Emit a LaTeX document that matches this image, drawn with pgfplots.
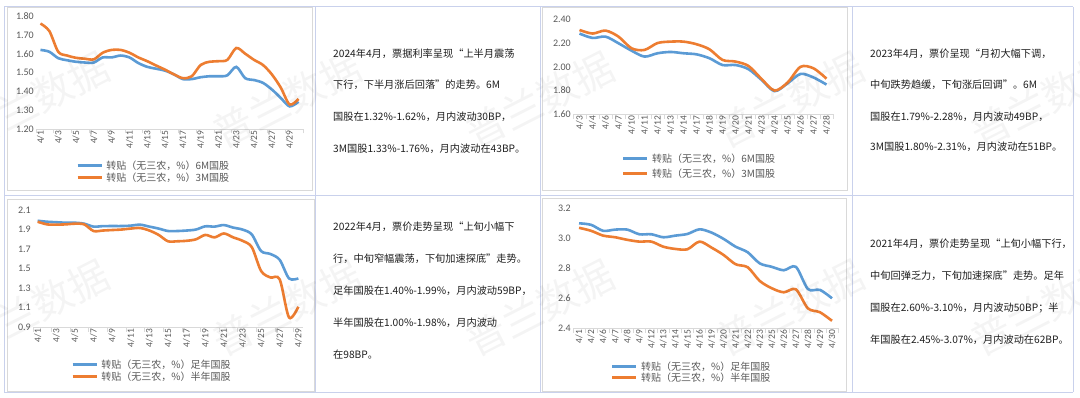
\documentclass[border=0pt]{standalone}
\usepackage{fontspec}
\usepackage{pgfplots}
\pgfplotsset{compat=1.18}
\setmainfont{Noto Sans CJK SC}
\newfontfamily\carlito{Carlito}
\definecolor{blueline}{HTML}{5B9BD5}
\definecolor{orangeline}{HTML}{ED7D31}
\definecolor{tickgray}{HTML}{595959}
\definecolor{axisgray}{HTML}{D9D9D9}
\definecolor{tablec}{HTML}{C9D1EC}
\definecolor{txt}{HTML}{1E1E1E}
\pgfplotsset{
 mychart/.style={
   scale only axis,
   anchor=south west,
   enlargelimits=false,
   axis lines*=left,
   y axis line style={draw=none},
   x axis line style={draw=axisgray, line width=0.8bp},
   tick align=outside,
   major tick length=0pt,
   minor tick length=4.5bp,
   minor tick style={draw=axisgray, line width=0.8bp},
   xticklabel style={rotate=90, anchor=east, font=\carlito\fontsize{9.5bp}{9.5bp}\selectfont, text=tickgray, inner sep=1.5bp},
   yticklabel style={font=\carlito\fontsize{10bp}{10bp}\selectfont, text=tickgray, inner sep=2bp},
   /pgf/number format/assume math mode=true,
   clip=false,
   legend cell align=left,
   legend style={draw=none, fill=none, font=\fontsize{10bp}{12bp}\selectfont, text=tickgray, anchor=north west, inner sep=0pt, column sep=3bp, nodes={inner sep=0.5bp}},
   legend image code/.code={\draw[##1] (0bp,0bp) -- (24bp,0bp);},
   every axis plot/.append style={line width=2.6bp, smooth, tension=0.5, no markers},
 }
}
\begin{document}
\begin{tikzpicture}[x=1bp,y=1bp]
\path[use as bounding box, fill=white] (0,0) rectangle (1080,397);
% table grid
\begin{scope}[draw=tablec, line width=1bp]
\draw (4,390) -- (1073,390);
\draw (4,202) -- (1073,202);
\draw (4,5) -- (1073,5);
\foreach \xx in {4,315,540,852,1073} {\draw (\xx,5) -- (\xx,390);}
\end{scope}
% chart borders
\begin{scope}[draw=axisgray, line width=0.8bp]
\draw (7,390) rectangle (312.5,206.5);
\draw (542,390) rectangle (847,207);
\draw (7,198) rectangle (314,6);
\draw (542,199) rectangle (846,6);
\end{scope}

% ---------- Chart 1 (2024) ----------
\begin{axis}[mychart, at={(36bp,268bp)}, width=267bp, height=113bp,
  xmin=-0.5, xmax=29.5, ymin=1.2, ymax=1.8,
  ytick={1.2,1.3,1.4,1.5,1.6,1.7,1.8},
  yticklabel style={/pgf/number format/.cd, fixed, fixed zerofill, precision=2},
  xtick={0,2,4,6,8,10,12,14,16,18,20,22,24,26,28},
  xticklabels={4/1,4/3,4/5,4/7,4/9,4/11,4/13,4/15,4/17,4/19,4/21,4/23,4/25,4/27,4/29},
  minor xtick={-0.5,1.5,3.5,5.5,7.5,9.5,11.5,13.5,15.5,17.5,19.5,21.5,23.5,25.5,27.5,29.5},
  legend style={at={(0.150,-0.274)}, row sep=1bp}]
\addplot[blueline] coordinates {(0,1.62)(1,1.61)(2,1.576)(3,1.565)(4,1.557)(5,1.553)(6,1.553)(7,1.58)(8,1.58)(9,1.59)(10,1.58)(11,1.55)(12,1.53)(13,1.52)(14,1.51)(15,1.49)(16,1.465)(17,1.465)(18,1.475)(19,1.48)(20,1.48)(21,1.485)(22,1.53)(23,1.47)(24,1.46)(25,1.445)(26,1.41)(27,1.365)(28,1.32)(29,1.345)};
\addlegendentry{转贴（无三农，\%）6M国股}
\addplot[orangeline] coordinates {(0,1.76)(1,1.72)(2,1.61)(3,1.59)(4,1.578)(5,1.573)(6,1.57)(7,1.605)(8,1.62)(9,1.62)(10,1.605)(11,1.58)(12,1.56)(13,1.537)(14,1.515)(15,1.49)(16,1.47)(17,1.48)(18,1.54)(19,1.557)(20,1.56)(21,1.567)(22,1.63)(23,1.60)(24,1.567)(25,1.54)(26,1.49)(27,1.42)(28,1.33)(29,1.36)};
\addlegendentry{转贴（无三农，\%）3M国股}
\end{axis}

% ---------- Chart 2 (2023) ----------
\begin{axis}[mychart, at={(573bp,282.7bp)}, width=260bp, height=95bp,
  xmin=-0.5, xmax=19.5, ymin=1.6, ymax=2.4,
  ytick={1.6,1.8,2.0,2.2,2.4},
  yticklabel style={/pgf/number format/.cd, fixed, fixed zerofill, precision=2},
  xtick={0,...,19},
  xticklabels={4/3,4/4,4/6,4/7,4/10,4/11,4/12,4/13,4/14,4/17,4/18,4/19,4/20,4/21,4/23,4/24,4/25,4/26,4/27,4/28},
  minor xtick={-0.5,0.5,...,19.5},
  legend style={at={(0.188,-0.407)}, row sep=4bp}]
\addplot[blueline] coordinates {(0,2.28)(1,2.243)(2,2.254)(3,2.198)(4,2.136)(5,2.086)(6,2.114)(7,2.125)(8,2.114)(9,2.105)(10,2.072)(11,2.015)(12,2.015)(13,1.98)(14,1.89)(15,1.795)(16,1.86)(17,1.94)(18,1.91)(19,1.85)};
\addlegendentry{转贴（无三农，\%）6M国股}
\addplot[orangeline] coordinates {(0,2.31)(1,2.28)(2,2.305)(3,2.254)(4,2.156)(5,2.142)(6,2.20)(7,2.212)(8,2.212)(9,2.19)(10,2.147)(11,2.058)(12,2.044)(13,2.007)(14,1.898)(15,1.80)(16,1.867)(17,2.00)(18,1.987)(19,1.90)};
\addlegendentry{转贴（无三农，\%）3M国股}
\end{axis}

% ---------- Chart 3 (2022) ----------
\begin{axis}[mychart, at={(33bp,69.7bp)}, width=270bp, height=117.3bp,
  xmin=-0.5, xmax=28.5, ymin=0.9, ymax=2.1,
  ytick={0.9,1.1,1.3,1.5,1.7,1.9,2.1},
  yticklabel style={/pgf/number format/.cd, fixed, fixed zerofill, precision=1},
  xtick={0,2,4,6,8,10,12,14,16,18,20,22,24,26,28},
  xticklabels={4/1,4/3,4/5,4/7,4/9,4/11,4/13,4/15,4/17,4/19,4/21,4/23,4/25,4/27,4/29},
  minor xtick={-0.5,1.5,3.5,5.5,7.5,9.5,11.5,13.5,15.5,17.5,19.5,21.5,23.5,25.5,27.5},
  legend style={at={(0.141,-0.270)}, row sep=1bp}]
\addplot[blueline] coordinates {(0,1.99)(1,1.98)(2,1.975)(3,1.97)(4,1.97)(5,1.96)(6,1.93)(7,1.935)(8,1.936)(9,1.936)(10,1.94)(11,1.95)(12,1.93)(13,1.91)(14,1.885)(15,1.885)(16,1.89)(17,1.90)(18,1.933)(19,1.93)(20,1.946)(21,1.92)(22,1.90)(23,1.85)(24,1.68)(25,1.65)(26,1.59)(27,1.40)(28,1.40)};
\addlegendentry{转贴（无三农，\%）足年国股}
\addplot[orangeline] coordinates {(0,1.98)(1,1.953)(2,1.95)(3,1.953)(4,1.96)(5,1.953)(6,1.885)(7,1.89)(8,1.895)(9,1.90)(10,1.91)(11,1.916)(12,1.89)(13,1.845)(14,1.78)(15,1.78)(16,1.785)(17,1.80)(18,1.845)(19,1.82)(20,1.86)(21,1.82)(22,1.785)(23,1.72)(24,1.476)(25,1.41)(26,1.39)(27,1.00)(28,1.11)};
\addlegendentry{转贴（无三农，\%）半年国股}
\end{axis}

% ---------- Chart 4 (2021) ----------
\begin{axis}[mychart, at={(573bp,68.7bp)}, width=265bp, height=120bp,
  xmin=-0.5, xmax=21.5, ymin=2.4, ymax=3.2,
  ytick={2.4,2.6,2.8,3.0,3.2},
  yticklabel style={/pgf/number format/.cd, fixed, fixed zerofill, precision=1},
  xtick={0,...,21},
  xticklabels={4/1,4/2,4/6,4/7,4/8,4/9,4/12,4/13,4/14,4/15,4/16,4/19,4/20,4/21,4/22,4/23,4/25,4/26,4/27,4/28,4/29,4/30},
  minor xtick={-0.5,0.5,...,21.5},
  legend style={at={(0.143,-0.2725)}, row sep=0bp}]
\addplot[blueline] coordinates {(0,3.10)(1,3.09)(2,3.05)(3,3.058)(4,3.058)(5,3.027)(6,3.027)(7,3.007)(8,3.018)(9,3.029)(10,3.06)(11,3.038)(12,2.996)(13,2.944)(14,2.907)(15,2.833)(16,2.81)(17,2.787)(18,2.81)(19,2.662)(20,2.656)(21,2.60)};
\addlegendentry{转贴（无三农，\%）足年国股}
\addplot[orangeline] coordinates {(0,3.07)(1,3.05)(2,3.018)(3,3.007)(4,2.99)(5,2.978)(6,2.978)(7,2.944)(8,2.929)(9,2.927)(10,2.978)(11,2.938)(12,2.889)(13,2.827)(14,2.807)(15,2.716)(16,2.667)(17,2.64)(18,2.66)(19,2.533)(20,2.507)(21,2.45)};
\addlegendentry{转贴（无三农，\%）半年国股}
\end{axis}

% ---------- Text boxes ----------
\begin{scope}[every node/.style={anchor=west, inner sep=0pt, text=txt, font=\fontsize{10.2bp}{12bp}\selectfont}]
\node at (333,343.7) {2024年4月，票据利率呈现“上半月震荡};
\node at (333,312) {下行，下半月涨后回落”的走势。6M};
\node at (333,280.3) {国股在1.32\%-1.62\%，月内波动30BP，};
\node at (333,248.7) {3M国股1.33\%-1.76\%，月内波动在43BP。};

\node at (870,343.7) {2023年4月，票价呈现“月初大幅下调，};
\node at (870,312) {中旬跌势趋缓，下旬涨后回调”。6M};
\node at (870,280.3) {国股在1.79\%-2.28\%，月内波动49BP，};
\node at (870,250.3) {3M国股1.80\%-2.31\%，月内波动在51BP。};

\node at (333,170) {2022年4月，票价走势呈现“上旬小幅下};
\node at (333,138) {行，中旬窄幅震荡，下旬加速探底”走势。};
\node at (333,106) {足年国股在1.40\%-1.99\%，月内波动59BP，};
\node at (333,74) {半年国股在1.00\%-1.98\%，月内波动};
\node at (333,42) {在98BP。};

\node at (870,153) {2021年4月，票价走势呈现“上旬小幅下行，};
\node at (870,121) {中旬回弹乏力，下旬加速探底”走势。足年};
\node at (870,89) {国股在2.60\%-3.10\%，月内波动50BP；半};
\node at (870,57) {年国股在2.45\%-3.07\%，月内波动在62BP。};
\end{scope}

% ---------- Watermark ----------
\begin{scope}[every node/.style={rotate=27, text=black, opacity=0.045, font=\fontsize{40bp}{40bp}\selectfont, inner sep=0pt}]
\foreach \wx in {35,287,540,790,1045} {
  \node at (\wx,297) {普兰数据};
  \node at (\wx,89) {普兰数据};
}
\end{scope}
\end{tikzpicture}
\end{document}
